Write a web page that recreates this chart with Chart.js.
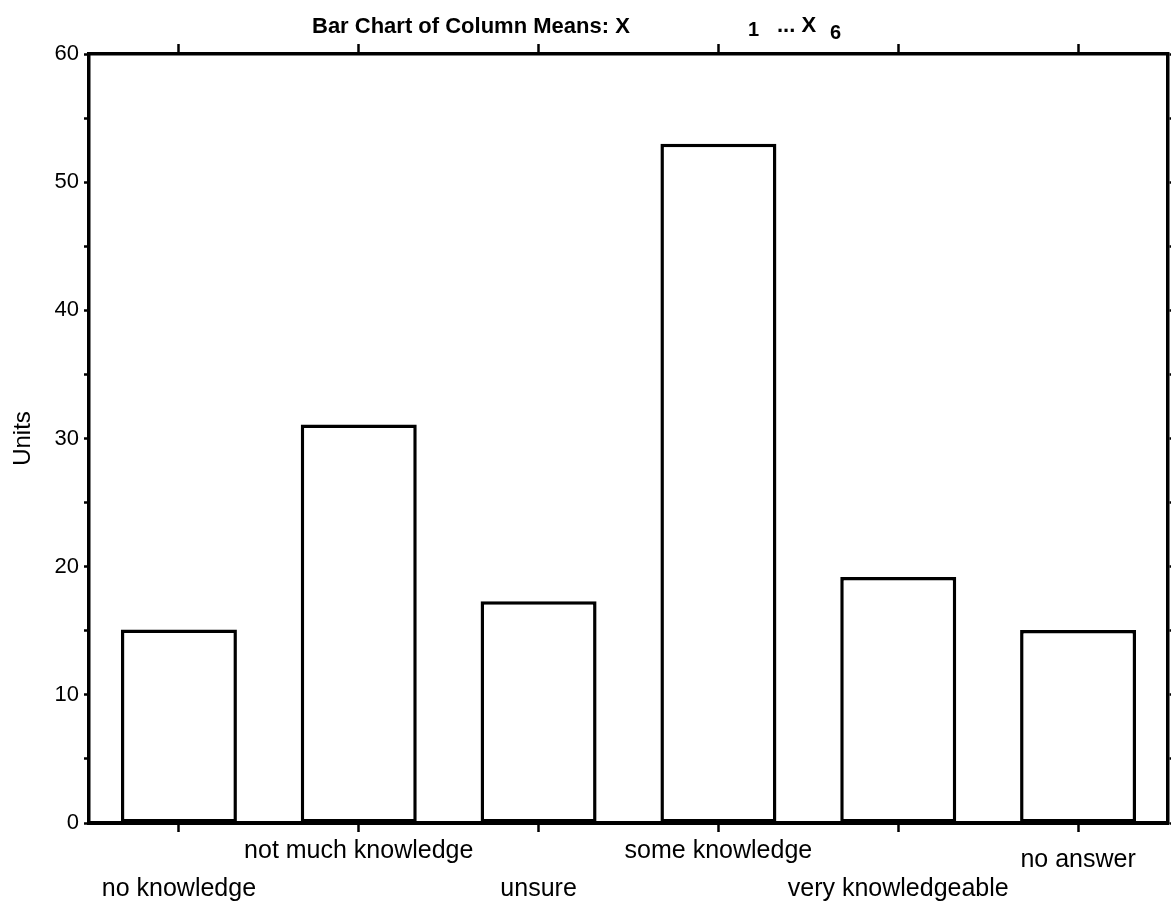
<!DOCTYPE html>
<html>
<head>
<meta charset="utf-8">
<script src="https://cdn.jsdelivr.net/npm/chart.js@4.4.1/dist/chart.umd.min.js"></script>
<style>
  html, body { margin: 0; padding: 0; background: #fff; }
  #wrap { width: 1172px; height: 912px; }
</style>
</head>
<body>
<div id="wrap"><canvas id="c" width="1172" height="912"></canvas></div>
<script>
// ---- data ----
const categories = ['no knowledge', 'not much knowledge', 'unsure', 'some knowledge', 'very knowledgeable', 'no answer'];
const columnMeans = [15.1, 31.1, 17.3, 53.0, 19.2, 15.05];
const yTickStep = 5;
const yLabelStep = 10;
const yMin = 0;
const yMax = 60;
const titleMain = 'Bar Chart of Column Means: X';
const titleSub1 = '1';
const titleMid = '... X';
const titleSub2 = '6';
const yAxisTitle = 'Units';

// stagger of the category labels (number of blank lines before each label)
const labelStagger = [4, 0, 4, 0, 4, 1];

const FONT = '"Liberation Sans", Arial, Helvetica, sans-serif';

const titlePlugin = {
  id: 'customTitle',
  afterDraw(chart) {
    const ctx = chart.ctx;
    ctx.save();
    ctx.fillStyle = '#000';
    ctx.textBaseline = 'alphabetic';
    ctx.textAlign = 'left';
    ctx.font = 'bold 22px ' + FONT;
    ctx.fillText(titleMain, 312, 33);
    ctx.font = 'bold 20px ' + FONT;
    ctx.fillText(titleSub1, 748, 36);
    ctx.font = 'bold 22px ' + FONT;
    ctx.fillText(titleMid, 777, 32);
    ctx.font = 'bold 20px ' + FONT;
    ctx.fillText(titleSub2, 830, 39);
    ctx.restore();
  }
};

new Chart(document.getElementById('c'), {
  type: 'bar',
  data: {
    labels: categories,
    datasets: [{
      data: columnMeans,
      backgroundColor: '#ffffff',
      borderColor: '#000000',
      borderWidth: 3.5,
      borderSkipped: false,
      categoryPercentage: 1.0,
      barPercentage: 0.645
    }]
  },
  options: {
    responsive: false,
    animation: false,
    devicePixelRatio: 1,
    layout: { padding: 0 },
    plugins: {
      legend: { display: false },
      tooltip: { enabled: false },
      title: { display: false }
    },
    scales: {
      x: {
        type: 'category',
        position: 'bottom',
        offset: true,
        grid: {
          drawOnChartArea: false,
          drawTicks: true,
          tickLength: 9,
          tickWidth: 2.5,
          tickColor: '#000',
          offset: false
        },
        border: { display: true, color: '#000', width: 4 },
        ticks: {
          color: '#000',
          padding: 14,
          maxRotation: 0,
          minRotation: 0,
          autoSkip: false,
          font: { family: FONT, size: 25, lineHeight: '9.5px' },
          callback: function(value, index) {
            const lines = [];
            for (let i = 0; i < labelStagger[index]; i++) lines.push('');
            lines.push(categories[index]);
            return lines;
          }
        },
        afterFit: (s) => { s.height = 89; }
      },
      x2: {
        type: 'category',
        position: 'top',
        labels: categories,
        offset: true,
        grid: {
          drawOnChartArea: false,
          drawTicks: true,
          tickLength: 10,
          tickWidth: 2.5,
          tickColor: '#000',
          offset: false
        },
        border: { display: true, color: '#000', width: 3.5 },
        ticks: { display: true, color: 'rgba(0,0,0,0)', font: { size: 1 }, padding: 0 },
        afterFit: (s) => { s.height = 54; }
      },
      y: {
        type: 'linear',
        position: 'left',
        min: yMin,
        max: yMax,
        grid: {
          drawOnChartArea: false,
          drawTicks: true,
          tickLength: 5,
          tickWidth: 2.5,
          tickColor: '#000'
        },
        border: { display: true, color: '#000', width: 3.5 },
        ticks: {
          stepSize: yTickStep,
          color: '#000',
          padding: 5,
          font: { family: FONT, size: 22 },
          callback: (v) => (v % yLabelStep === 0 ? String(v) : '')
        },
        title: {
          display: true,
          text: yAxisTitle,
          color: '#000',
          font: { family: FONT, size: 24 },
          padding: { top: 9, bottom: 0 }
        },
        afterFit: (s) => { s.width = 89; }
      },
      y2: {
        type: 'linear',
        position: 'right',
        min: yMin,
        max: yMax,
        grid: {
          drawOnChartArea: false,
          drawTicks: true,
          tickLength: 3,
          tickWidth: 2.5,
          tickColor: '#000'
        },
        border: { display: true, color: '#000', width: 3.5 },
        ticks: { stepSize: yTickStep, display: true, color: 'rgba(0,0,0,0)', font: { size: 1 }, padding: 0, callback: () => '' },
        afterFit: (s) => { s.width = 4; }
      }
    }
  },
  plugins: [titlePlugin]
});
</script>
</body>
</html>
